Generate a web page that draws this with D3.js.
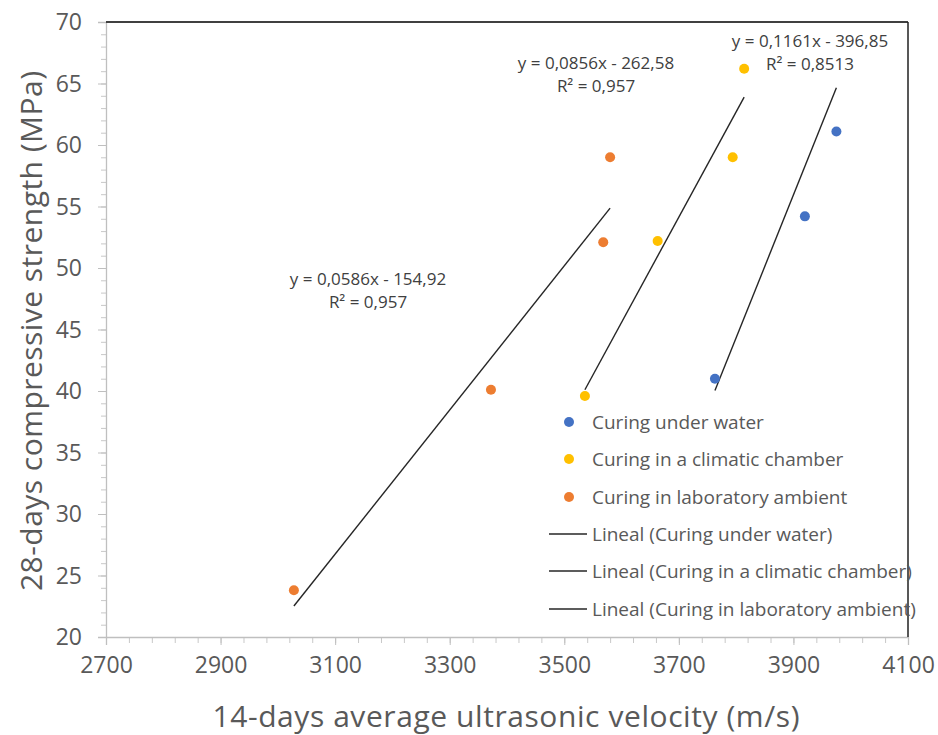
<!DOCTYPE html>
<html>
<head>
<meta charset="utf-8">
<script src="https://cdn.jsdelivr.net/npm/d3@7"></script>
<style>
  body { margin: 0; background: #fff; }
  text { font-family: "Open Sans", Lato, sans-serif; }
</style>
</head>
<body>
<div id="chart"></div>
<script>
// data
var seriesNames = ["Curing under water", "Curing in a climatic chamber", "Curing in laboratory ambient"];
var seriesColors = ["#4472C4", "#FFC000", "#ED7D31"];
var waterX = [3763, 3920, 3975];
var waterY = [41.0, 54.2, 61.1];
var chamberX = [3536, 3663, 3794, 3814];
var chamberY = [39.6, 52.2, 59.0, 66.2];
var ambientX = [3028, 3372, 3568, 3580];
var ambientY = [23.8, 40.1, 52.1, 59.0];
// trendline coefficients (slope, intercept) as printed on the chart
var slopes = [0.1161, 0.0856, 0.0586];
var intercepts = [-396.85, -262.58, -154.92];
var eqLabels = ["y = 0,1161x - 396,85", "y = 0,0856x - 262,58", "y = 0,0586x - 154,92"];
var r2Labels = ["R\u00B2 = 0,8513", "R\u00B2 = 0,957", "R\u00B2 = 0,957"];
var xTicks = [2700, 2900, 3100, 3300, 3500, 3700, 3900, 4100];
var yTicks = [20, 25, 30, 35, 40, 45, 50, 55, 60, 65, 70];

var w = 938, h = 735;
var margin = {left: 106, right: 30, top: 22, bottom: 98};

var svg = d3.select("#chart").append("svg")
    .attr("width", w).attr("height", h);

var x = d3.scaleLinear().domain([2700, 4100]).range([margin.left, w - margin.right]);
var y = d3.scaleLinear().domain([20, 70]).range([h - margin.bottom, margin.top]);

var series = [
  {xs: waterX, ys: waterY},
  {xs: chamberX, ys: chamberY},
  {xs: ambientX, ys: ambientY}
];

// minor ticks
svg.append("g")
    .attr("transform", "translate(0," + y(20) + ")")
    .call(d3.axisBottom(x).tickValues(d3.range(2700, 4101, 40)).tickSize(6).tickFormat(""))
    .call(g => g.select(".domain").remove())
    .selectAll("line").attr("stroke", "#c8c8c8");
svg.append("g")
    .attr("transform", "translate(" + x(2700) + ",0)")
    .call(d3.axisLeft(y).tickValues(d3.range(20, 71, 1)).tickSize(5).tickFormat(""))
    .call(g => g.select(".domain").remove())
    .selectAll("line").attr("stroke", "#c8c8c8");

// major axes
var xAxis = svg.append("g")
    .attr("transform", "translate(0," + y(20) + ")")
    .call(d3.axisBottom(x).tickValues(xTicks).tickSize(8).tickPadding(8).tickFormat(d3.format("d")));
var yAxis = svg.append("g")
    .attr("transform", "translate(" + x(2700) + ",0)")
    .call(d3.axisLeft(y).tickValues(yTicks).tickSize(8).tickPadding(16).tickFormat(d3.format("d")));
[xAxis, yAxis].forEach(function(a){
  a.select(".domain").attr("stroke", "#bfbfbf").attr("stroke-width", 1.3);
  a.selectAll("line").attr("stroke", "#bfbfbf");
  a.selectAll("text").attr("fill", "#595959").style("font-size", "23px");
});
xAxis.selectAll("text").attr("dy", "0.85em");
yAxis.selectAll("text").attr("dy", "0.34em");

// top and right frame lines
svg.append("line")
    .attr("x1", x(2700)).attr("x2", x(4100)).attr("y1", y(70)).attr("y2", y(70))
    .attr("stroke", "#404040").attr("stroke-width", 2);
svg.append("line")
    .attr("x1", x(4100)).attr("x2", x(4100)).attr("y1", y(70)).attr("y2", y(20))
    .attr("stroke", "#202020").attr("stroke-width", 1.5);

// axis titles
svg.append("text")
    .attr("x", 506).attr("y", 727)
    .attr("text-anchor", "middle")
    .attr("fill", "#595959")
    .attr("textLength", 587)
    .style("font-size", "30px")
    .text("14-days average ultrasonic velocity (m/s)");
svg.append("text")
    .attr("transform", "translate(42," + 331 + ") rotate(-90)")
    .attr("text-anchor", "middle")
    .attr("fill", "#595959")
    .attr("textLength", 520)
    .style("font-size", "30px")
    .text("28-days compressive strength (MPa)");

// trendlines
series.forEach(function(s, i){
  var x0 = d3.min(s.xs), x1 = d3.max(s.xs);
  svg.append("line")
      .attr("x1", x(x0)).attr("y1", y(slopes[i] * x0 + intercepts[i]))
      .attr("x2", x(x1)).attr("y2", y(slopes[i] * x1 + intercepts[i]))
      .attr("stroke", "#262626").attr("stroke-width", 1.4);
});

// points
series.forEach(function(s, i){
  svg.append("g").selectAll("circle")
      .data(s.xs)
      .enter()
      .append("circle")
      .attr("cx", d => x(d))
      .attr("cy", (d, j) => y(s.ys[j]))
      .attr("r", 5)
      .attr("fill", seriesColors[i]);
});

// trendline equation labels
var eqPos = [[810, 41], [596, 63], [368, 279]];
eqPos.forEach(function(p, i){
  var t = svg.append("text")
      .attr("text-anchor", "middle")
      .attr("fill", "#404040")
      .style("font-size", "17px");
  t.append("tspan").attr("x", p[0]).attr("y", p[1] + 6).text(eqLabels[i]);
  t.append("tspan").attr("x", p[0]).attr("y", p[1] + 29).text(r2Labels[i]);
});

// legend
var legY = [422, 459, 497, 534, 571, 609];
var leg = svg.append("g");
seriesNames.forEach(function(n, i){
  leg.append("circle").attr("cx", 569).attr("cy", legY[i]).attr("r", 5).attr("fill", seriesColors[i]);
  leg.append("text").attr("x", 592).attr("y", legY[i]).attr("dy", "0.35em")
      .attr("fill", "#595959").style("font-size", "19px").text(n);
  leg.append("line").attr("x1", 549).attr("x2", 587).attr("y1", legY[i + 3]).attr("y2", legY[i + 3])
      .attr("stroke", "#262626").attr("stroke-width", 1.4);
  leg.append("text").attr("x", 592).attr("y", legY[i + 3]).attr("dy", "0.35em")
      .attr("fill", "#595959").style("font-size", "19px").text("Lineal (" + n + ")");
});
</script>
</body>
</html>
